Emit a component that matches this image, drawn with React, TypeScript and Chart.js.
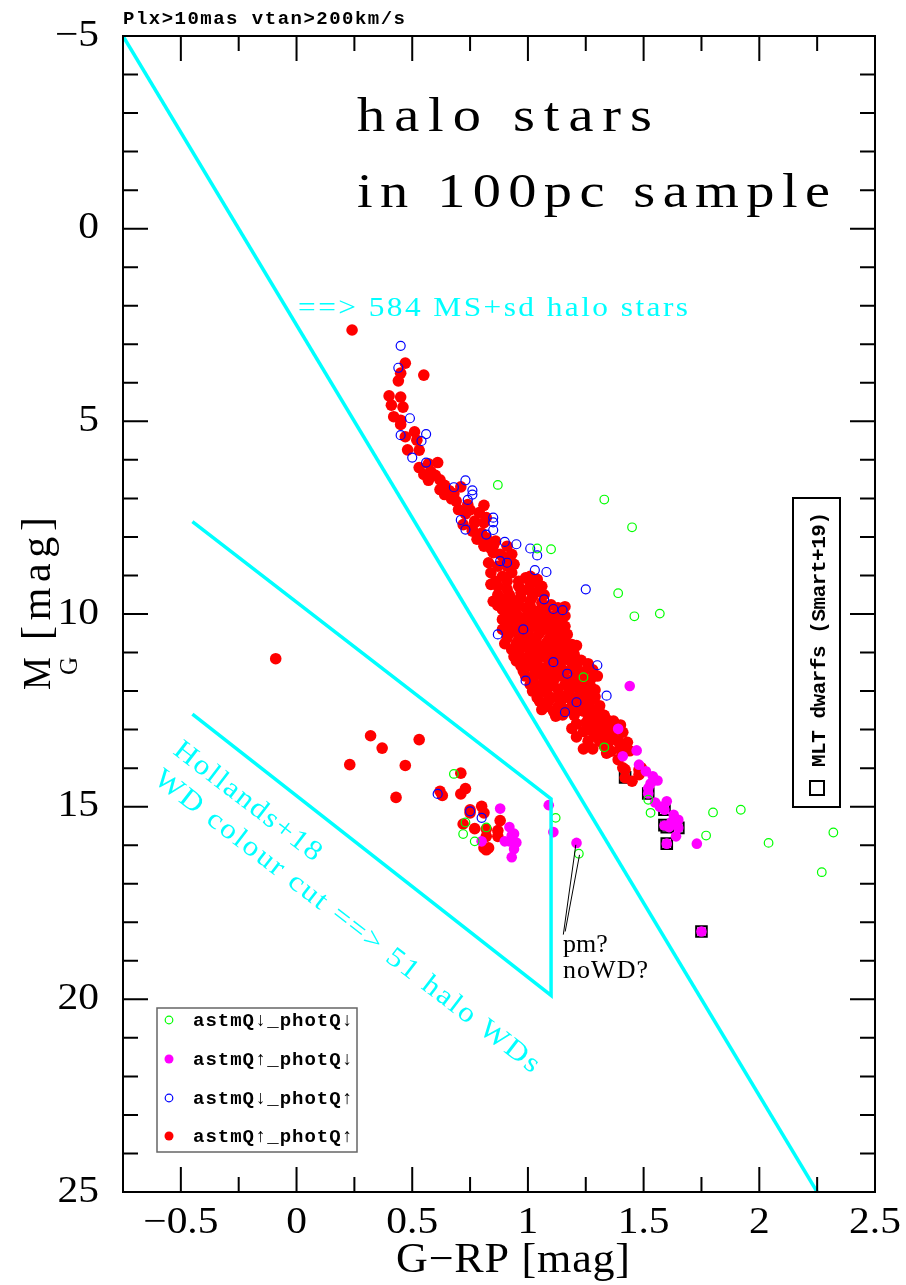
import React, { useEffect, useRef } from "react";
import { Chart, registerables } from "chart.js";

Chart.register(...registerables);

// ---------------- data ----------------
const X_RANGE = [-0.75, 2.5];
const Y_RANGE = [-5, 25];
const X_TICK_LABELS = [-0.5, 0, 0.5, 1, 1.5, 2, 2.5];
const X_MAJOR_TICKS = [-0.5, 0, 0.5, 1, 1.5, 2];
const X_MINOR_TICKS = [-0.25, 0.25, 0.75, 1.25, 1.75, 2.25];
const Y_TICK_LABELS = [-5, 0, 5, 10, 15, 20, 25];
const Y_MAJOR_TICKS = [0, 5, 10, 15, 20];
const Y_MINOR_TICKS = [-4, -3, -2, -1, 1, 2, 3, 4, 6, 7, 8, 9, 11, 12, 13, 14, 16, 17, 18, 19, 21, 22, 23, 24];

const SERIES_LABELS = ["astmQ↓_photQ↓", "astmQ↑_photQ↓", "astmQ↓_photQ↑", "astmQ↑_photQ↑"];

// astmQ↓_photQ↓ (green open circles)
const GREEN_PTS = [
  [0.87, 6.65], [1.10, 8.32], [1.04, 8.30], [1.33, 7.03], [1.45, 7.75], [1.39, 9.46], [1.57, 9.99],
  [1.46, 10.06], [1.24, 11.64], [1.33, 13.46], [1.52, 14.82], [1.53, 15.16], [1.80, 15.15], [1.92, 15.08],
  [1.77, 15.75], [2.04, 15.94], [2.32, 15.67], [2.27, 16.70],
  [1.22, 16.22], [0.68, 14.15], [0.73, 15.41], [0.72, 15.71], [0.77, 15.90], [0.82, 15.54], [1.12, 15.29],
];

// astmQ↑_photQ↓ (magenta filled)
const MAGENTA_PTS = [
  [1.44, 11.87], [1.39, 12.98], [1.47, 13.54], [1.41, 13.69], [1.48, 13.91], [1.51, 14.08], [1.54, 14.21],
  [1.56, 14.32], [1.52, 14.52], [1.52, 14.66], [1.55, 14.89], [1.60, 14.86], [1.59, 15.08], [1.63, 15.21],
  [1.65, 15.34], [1.59, 15.49], [1.61, 15.53], [1.65, 15.55], [1.64, 15.77], [1.60, 15.96], [1.73, 15.96],
  [1.75, 18.24], [1.53, 14.40], [1.57, 15.00], [1.62, 15.40],
  [1.09, 14.96], [1.11, 15.66], [1.21, 15.94], [0.88, 15.05], [0.92, 15.53], [0.94, 15.70], [0.90, 15.90],
  [0.92, 15.90], [0.95, 15.93], [0.94, 16.10], [0.93, 16.31], [0.80, 15.90], [0.93, 15.75],
];

// astmQ↓_photQ↑ (blue open circles)
const BLUE_PTS = [
  [0.45, 3.04], [0.44, 3.61], [0.49, 4.92], [0.45, 5.36], [0.56, 5.33], [0.54, 5.51], [0.50, 5.94],
  [0.56, 6.07], [0.73, 6.53], [0.68, 6.71], [0.76, 6.79], [0.76, 6.90], [0.74, 7.04], [0.71, 7.56],
  [0.73, 7.81], [0.85, 7.50], [0.85, 7.62], [0.85, 7.82], [0.82, 7.94], [0.90, 8.13], [0.95, 8.19],
  [1.01, 8.30], [1.04, 8.48], [1.03, 8.86], [1.08, 8.91], [1.25, 9.36], [1.07, 9.62], [1.11, 9.87],
  [1.15, 9.90], [0.87, 10.53], [1.30, 11.33], [0.99, 11.73], [1.34, 12.12], [1.21, 12.29], [1.16, 12.55],
  [0.91, 8.67], [0.88, 8.63], [0.98, 10.40], [1.11, 11.25], [1.17, 11.55],
  [0.61, 14.67], [0.75, 15.12], [0.80, 15.29],
];

// astmQ↑_photQ↑ (red filled)
const RED_PTS = [
  [0.24, 2.63], [0.47, 3.49], [0.55, 3.80], [0.45, 3.75], [0.44, 3.95], [0.40, 4.34], [0.45, 4.37],
  [0.41, 4.58], [0.46, 4.63], [0.42, 4.88], [0.45, 4.97], [0.45, 5.08], [0.47, 5.40], [0.51, 5.27],
  [0.52, 5.49], [0.48, 5.74], [0.53, 5.75], [0.53, 6.20], [0.57, 6.10], [0.61, 6.07], [0.55, 6.38],
  [0.57, 6.53], [0.62, 6.52], [0.64, 6.66], [0.62, 6.77], [0.71, 6.70], [0.64, 6.90], [0.67, 7.01],
  [0.69, 7.07], [0.70, 7.29], [0.74, 7.16], [0.81, 7.18], [0.79, 7.37], [0.72, 7.68], [0.77, 7.63],
  [0.82, 7.50], [0.76, 7.81], [0.78, 8.06], [0.81, 8.15], [0.86, 8.11], [0.85, 8.41], [0.91, 8.24],
  [0.93, 8.45], [0.77, 7.59], [0.81, 7.63], [0.76, 7.85], [0.81, 8.24], [0.89, 8.50], [0.82, 8.02],
  [0.85, 8.24], [0.88, 8.45], [0.83, 8.67], [0.87, 8.76], [0.91, 8.76], [0.94, 8.71], [0.84, 8.93],
  [0.89, 9.02], [0.93, 8.93], [0.99, 9.06], [1.01, 9.02], [1.04, 9.10], [1.04, 9.19], [1.06, 9.28],
  [0.84, 9.23], [0.87, 9.28], [0.91, 9.36], [0.96, 9.28], [1.00, 9.36], [1.03, 9.45], [0.85, 9.67],
  [0.89, 9.62], [0.93, 9.62], [0.97, 9.58], [1.01, 9.67], [1.06, 9.71], [0.89, 9.88], [0.94, 9.88],
  [0.99, 9.84], [1.04, 9.93], [1.13, 9.84], [1.16, 9.81], [0.89, 10.14], [0.93, 10.14], [0.97, 10.10],
  [1.01, 10.14], [1.06, 10.14], [1.10, 10.14], [1.14, 10.10], [0.89, 10.40], [0.94, 10.36], [0.98, 10.40],
  [1.02, 10.32], [1.07, 10.40], [1.12, 10.32], [1.16, 10.32], [0.91, 10.62], [0.96, 10.66], [1.00, 10.62],
  [1.04, 10.58], [1.09, 10.66], [1.14, 10.53], [1.17, 10.53], [0.93, 10.92], [0.97, 10.88], [1.01, 10.88],
  [1.06, 10.84], [1.10, 10.92], [1.14, 10.84], [1.19, 10.79], [1.21, 10.82], [0.94, 11.10], [0.99, 11.14],
  [1.03, 11.14], [1.07, 11.10], [1.11, 11.05], [1.16, 11.10], [1.20, 11.05], [0.97, 11.35], [1.01, 11.35],
  [1.06, 11.40], [1.10, 11.35], [1.14, 11.35], [1.19, 11.27], [1.21, 11.35], [1.26, 11.29], [0.99, 11.61],
  [1.04, 11.57], [1.09, 11.61], [1.13, 11.61], [1.17, 11.70], [1.21, 11.66], [1.27, 11.70], [1.30, 11.61],
  [1.01, 11.83], [1.06, 11.83], [1.10, 11.87], [1.16, 11.83], [1.20, 11.87], [1.24, 11.83], [1.27, 11.87],
  [1.02, 12.00], [1.08, 12.05], [1.13, 12.13], [1.17, 12.09], [1.23, 12.05], [1.26, 12.05], [1.05, 12.26],
  [1.09, 12.26], [1.14, 12.31], [1.19, 12.26], [1.24, 12.31], [1.27, 12.26], [1.06, 12.48], [1.11, 12.52],
  [1.12, 12.65], [1.17, 12.48], [1.24, 12.52], [1.29, 12.52], [1.31, 12.55], [1.26, 12.74], [1.30, 12.74],
  [1.34, 12.74], [1.37, 12.78], [1.19, 12.97], [1.26, 12.96], [1.30, 12.96], [1.34, 13.00], [1.38, 12.96],
  [1.21, 13.19], [1.29, 13.17], [1.33, 13.13], [1.37, 13.22], [1.24, 13.50], [1.28, 13.50], [1.33, 13.43],
  [1.36, 13.56], [1.40, 13.52], [1.44, 13.55], [1.34, 13.61], [1.39, 13.78], [1.41, 13.99], [1.49, 13.99],
  [1.25, 12.83], [1.28, 12.87], [1.33, 12.78], [1.36, 12.87], [1.30, 13.09], [1.40, 13.43], [1.42, 14.04],
  [1.48, 14.04], [1.48, 14.17], [1.45, 14.34], [1.42, 14.25],
  // denser core of the main sequence
  [0.58, 6.30], [0.60, 6.40], [0.66, 6.80], [0.68, 6.88], [0.73, 7.40], [0.75, 7.30], [0.80, 7.90],
  [0.84, 8.30], [0.90, 8.62], [0.86, 9.15], [0.91, 9.15], [0.96, 9.15], [1.01, 9.20], [0.87, 9.50],
  [0.92, 9.50], [0.97, 9.45], [1.02, 9.55], [1.07, 9.50], [0.87, 9.78], [0.92, 9.76], [0.96, 9.78],
  [1.01, 9.80], [1.08, 9.85], [1.10, 9.76], [0.91, 10.02], [0.95, 10.00], [1.00, 10.02], [1.04, 10.03],
  [1.08, 10.00], [1.12, 10.02], [1.16, 10.05], [0.91, 10.27], [0.96, 10.25], [1.00, 10.27], [1.04, 10.25],
  [1.09, 10.28], [1.14, 10.22], [0.92, 10.50], [0.96, 10.52], [1.00, 10.48], [1.05, 10.50], [1.10, 10.48],
  [0.90, 10.77], [0.95, 10.77], [0.99, 10.75], [1.03, 10.78], [1.08, 10.75], [1.12, 10.70], [1.16, 10.72],
  [0.96, 11.00], [1.01, 11.00], [1.05, 10.98], [1.09, 11.00], [1.14, 10.98], [1.18, 10.95], [0.95, 11.22],
  [0.99, 11.24], [1.04, 11.22], [1.09, 11.22], [1.13, 11.20], [1.17, 11.18], [1.23, 11.20], [0.98, 11.48],
  [1.03, 11.48], [1.08, 11.50], [1.12, 11.46], [1.16, 11.48], [1.20, 11.47], [1.24, 11.50], [1.28, 11.45],
  [1.02, 11.72], [1.07, 11.72], [1.11, 11.74], [1.15, 11.60], [1.19, 11.76], [1.24, 11.70], [1.04, 11.95],
  [1.08, 11.96], [1.13, 11.95], [1.18, 11.97], [1.22, 11.95], [1.29, 11.97], [1.04, 12.17], [1.10, 12.17],
  [1.15, 12.20], [1.21, 12.17], [1.25, 12.18], [1.29, 12.15], [1.08, 12.40], [1.13, 12.40], [1.19, 12.40],
  [1.22, 12.42], [1.26, 12.40], [1.31, 12.38], [1.15, 12.62], [1.20, 12.63], [1.27, 12.62], [1.33, 12.63],
  [1.21, 12.85], [1.31, 12.86], [1.40, 12.88], [1.24, 13.05], [1.28, 13.05], [1.36, 13.05], [1.41, 13.07],
  [1.26, 13.30], [1.31, 13.30], [1.35, 13.32], [1.39, 13.30], [1.43, 13.33],
  // white-dwarf region
  [-0.09, 11.16], [0.32, 13.16], [0.37, 13.48], [0.53, 13.26], [0.23, 13.91], [0.47, 13.93], [0.43, 14.76],
  [0.71, 14.13], [0.62, 14.60], [0.63, 14.71], [0.73, 14.53], [0.71, 14.67], [0.75, 15.08], [0.80, 14.99],
  [0.81, 15.16], [0.75, 15.16], [0.72, 15.45], [0.77, 15.57], [0.82, 15.58], [0.82, 15.77], [0.88, 15.36],
  [0.87, 15.62], [0.87, 15.77], [0.81, 16.07], [0.83, 16.07], [0.82, 16.12],
];

// MLT dwarfs (Smart+19), squares
const MLT_PTS = [
  [1.42, 14.24], [1.52, 14.66], [1.59, 15.08], [1.59, 15.48], [1.60, 15.53], [1.65, 15.55], [1.60, 15.96], [1.75, 18.24],
];

// cuts
const CUT_MS = [[-0.75, -5], [2.25, 25]];
const CUT_WD = [[-0.45, 7.6], [1.10, 14.8], [1.10, 19.9], [-0.45, 12.6]];
const PM_LINE_A = [[1.153, 18.32], [1.207, 15.99]];
const PM_LINE_B = [[1.161, 18.24], [1.223, 16.25]];

// ---------------- styles ----------------
const CYAN = "#00ffff";
const GREEN = "#00ff00";
const MAGENTA = "#ff00ff";
const BLUE = "#0000ff";
const RED = "#ff0000";
const SERIF = '"Liberation Serif", "Times New Roman", serif';
const MONO = '"Liberation Mono", "DejaVu Sans Mono", monospace';

const toXY = (a: number[][]) => a.map(([x, y]) => ({ x, y }));
const fmt = (v: number) => (v < 0 ? "\u2212" + Math.abs(v) : String(v));

// draws text from x to x+width, stretching glyphs horizontally by sx and distributing the rest as spacing
function spaced(ctx: CanvasRenderingContext2D, text: string, x: number, y: number, width: number, sx = 1) {
  const chars = Array.from(text);
  const ws = chars.map((c) => ctx.measureText(c).width * sx);
  const total = ws.reduce((s, w) => s + w, 0);
  const gap = chars.length > 1 ? (width - total) / (chars.length - 1) : 0;
  let cx = x;
  chars.forEach((c, i) => {
    ctx.save();
    ctx.translate(cx, y);
    ctx.scale(sx, 1);
    ctx.fillText(c, 0, 0);
    ctx.restore();
    cx += ws[i] + gap;
  });
}

function rotatedSpaced(
  ctx: CanvasRenderingContext2D, text: string, cx: number, cy: number, width: number, angleDeg: number, sx = 1
) {
  ctx.save();
  ctx.translate(cx, cy);
  ctx.rotate((angleDeg * Math.PI) / 180);
  ctx.textBaseline = "middle";
  spaced(ctx, text, -width / 2, 0, width, sx);
  ctx.restore();
}

function centered(ctx: CanvasRenderingContext2D, text: string, cx: number, y: number, sx: number) {
  const w = ctx.measureText(text).width * sx;
  ctx.save();
  ctx.translate(cx - w / 2, y);
  ctx.scale(sx, 1);
  ctx.fillText(text, 0, 0);
  ctx.restore();
}

function rightAligned(ctx: CanvasRenderingContext2D, text: string, rx: number, y: number, sx: number) {
  const w = ctx.measureText(text).width * sx;
  ctx.save();
  ctx.translate(rx - w, y);
  ctx.scale(sx, 1);
  ctx.fillText(text, 0, 0);
  ctx.restore();
}

const decor = {
  id: "decor",
  afterDraw(chart: any) {
    const { ctx, chartArea: a } = chart;
    const xs = chart.scales.x;
    const ys = chart.scales.y;
    ctx.save();
    ctx.textAlign = "left";

    // frame + inward ticks
    ctx.strokeStyle = "#000";
    ctx.lineWidth = 2;
    ctx.strokeRect(a.left, a.top, a.right - a.left, a.bottom - a.top);
    ctx.beginPath();
    const tx = (vals: number[], len: number) =>
      vals.forEach((v) => {
        const p = xs.getPixelForValue(v);
        ctx.moveTo(p, a.bottom);
        ctx.lineTo(p, a.bottom - len);
        ctx.moveTo(p, a.top);
        ctx.lineTo(p, a.top + len);
      });
    const ty = (vals: number[], len: number) =>
      vals.forEach((v) => {
        const p = ys.getPixelForValue(v);
        ctx.moveTo(a.left, p);
        ctx.lineTo(a.left + len, p);
        ctx.moveTo(a.right, p);
        ctx.lineTo(a.right - len, p);
      });
    tx(X_MAJOR_TICKS, 25);
    tx(X_MINOR_TICKS, 15);
    ty(Y_MAJOR_TICKS, 25);
    ty(Y_MINOR_TICKS, 15);
    ctx.stroke();

    // tick labels
    ctx.fillStyle = "#000";
    ctx.font = `37px ${SERIF}`;
    ctx.textBaseline = "middle";
    X_TICK_LABELS.forEach((v) => centered(ctx, fmt(v), xs.getPixelForValue(v), a.bottom + 31, 1.12));
    Y_TICK_LABELS.forEach((v) => rightAligned(ctx, fmt(v), a.left - 24, ys.getPixelForValue(v), 1.12));

    // axis titles
    ctx.textBaseline = "alphabetic";
    ctx.font = `42px ${SERIF}`;
    spaced(ctx, "G\u2212RP [mag]", 396, 1272, 234, 1.05);
    ctx.save();
    ctx.translate(50, 690);
    ctx.rotate(-Math.PI / 2);
    ctx.font = `41px ${SERIF}`;
    ctx.save();
    ctx.scale(0.9, 1);
    ctx.fillText("M", 0, 0);
    ctx.restore();
    ctx.font = `25px ${SERIF}`;
    ctx.fillText("G", 15, 27);
    ctx.font = `42px ${SERIF}`;
    spaced(ctx, "[mag]", 50, 0, 123);
    ctx.restore();

    // top-left note
    ctx.font = `bold 19px ${MONO}`;
    spaced(ctx, "Plx>10mas vtan>200km/s", 123, 24, 282);

    // big title
    ctx.font = `49px ${SERIF}`;
    spaced(ctx, "halo stars", 357, 131, 295, 1.15);
    spaced(ctx, "in 100pc sample", 357, 207, 473, 1.15);

    // cyan annotations
    ctx.fillStyle = CYAN;
    ctx.font = `28px ${SERIF}`;
    spaced(ctx, "==> 584 MS+sd halo stars", 298, 316, 390, 1.12);
    rotatedSpaced(ctx, "Hollands+18", 247.5, 801.7, 179, 37.6, 1.12);
    rotatedSpaced(ctx, "WD colour cut ==> 51 halo WDs", 346.7, 921.7, 479, 37.6, 1.12);

    // pm? noWD?
    ctx.fillStyle = "#000";
    ctx.textBaseline = "alphabetic";
    ctx.font = `26px ${SERIF}`;
    ctx.fillText("pm?", 563, 952);
    spaced(ctx, "noWD?", 563, 978, 85);

    // MLT box (rotated)
    ctx.lineWidth = 2;
    ctx.strokeStyle = "#000";
    ctx.strokeRect(793, 498, 47, 309);
    ctx.strokeRect(810, 781, 14, 14);
    ctx.save();
    ctx.translate(825, 767);
    ctx.rotate(-Math.PI / 2);
    ctx.font = `bold 21px ${MONO}`;
    spaced(ctx, "MLT dwarfs (Smart+19)", 0, 0, 255);
    ctx.restore();

    // legend
    ctx.lineWidth = 1.5;
    ctx.strokeStyle = "#666";
    ctx.strokeRect(157, 1008, 200, 144);
    const rows = [1020, 1059, 1098, 1136];
    const styles = [
      { c: GREEN, fill: false },
      { c: MAGENTA, fill: true },
      { c: BLUE, fill: false },
      { c: RED, fill: true },
    ];
    ctx.font = `bold 19px ${MONO}`;
    ctx.textBaseline = "middle";
    rows.forEach((ry, i) => {
      const s = styles[i];
      ctx.beginPath();
      if (s.fill) {
        ctx.arc(169, ry, 4.5, 0, Math.PI * 2);
        ctx.fillStyle = s.c;
        ctx.fill();
      } else {
        ctx.arc(169, ry, 3.8, 0, Math.PI * 2);
        ctx.strokeStyle = s.c;
        ctx.lineWidth = 1.2;
        ctx.stroke();
      }
      ctx.fillStyle = "#000";
      spaced(ctx, SERIES_LABELS[i], 193, ry + 1, 160);
    });

    ctx.restore();
  },
};

export default function App() {
  const ref = useRef<HTMLCanvasElement>(null);
  useEffect(() => {
    const lineDs = (data: number[][], color: string, width: number) => ({
      data: toXY(data),
      showLine: true,
      borderColor: color,
      borderWidth: width,
      pointRadius: 0,
      fill: false,
    });
    const chart = new Chart(ref.current as HTMLCanvasElement, {
      type: "scatter",
      data: {
        datasets: [
          { label: "cutMS", ...lineDs(CUT_MS, CYAN, 3.5) },
          { label: "cutWD", ...lineDs(CUT_WD, CYAN, 3.5) },
          { label: "pmA", ...lineDs(PM_LINE_A, "#000", 1) },
          { label: "pmB", ...lineDs(PM_LINE_B, "#000", 1) },
          {
            label: SERIES_LABELS[0],
            data: toXY(GREEN_PTS),
            pointRadius: 4.3,
            pointBorderWidth: 1.2,
            pointBorderColor: GREEN,
            pointBackgroundColor: "rgba(0,0,0,0)",
          },
          {
            label: SERIES_LABELS[1],
            data: toXY(MAGENTA_PTS),
            pointRadius: 5.3,
            pointBorderWidth: 0,
            pointBackgroundColor: MAGENTA,
          },
          {
            label: SERIES_LABELS[2],
            data: toXY(BLUE_PTS),
            pointRadius: 4.5,
            pointBorderWidth: 1.2,
            pointBorderColor: BLUE,
            pointBackgroundColor: "rgba(0,0,0,0)",
          },
          {
            label: SERIES_LABELS[3],
            data: toXY(RED_PTS),
            pointRadius: 5.8,
            pointBorderWidth: 0,
            pointBackgroundColor: RED,
          },
          {
            label: "MLT dwarfs (Smart+19)",
            data: toXY(MLT_PTS),
            pointStyle: "rect",
            pointRadius: 7.5,
            pointBorderWidth: 2,
            pointBorderColor: "#000",
            pointBackgroundColor: "rgba(0,0,0,0)",
          },
        ],
      },
      options: {
        responsive: false,
        maintainAspectRatio: false,
        animation: false,
        events: [],
        layout: { padding: { left: 123, top: 36, right: 31, bottom: 93 } },
        plugins: {
          legend: { display: false },
          tooltip: { enabled: false },
          title: { display: false },
        },
        scales: {
          x: { type: "linear", min: X_RANGE[0], max: X_RANGE[1], display: false },
          y: { type: "linear", min: Y_RANGE[0], max: Y_RANGE[1], reverse: true, display: false },
        },
      },
      plugins: [decor],
    } as any);
    return () => chart.destroy();
  }, []);
  return (
    <div style={{ position: "absolute", left: 0, top: 0, width: 906, height: 1285, background: "#fff" }}>
      <canvas ref={ref} width={906} height={1285} style={{ display: "block", width: 906, height: 1285 }} />
    </div>
  );
}
